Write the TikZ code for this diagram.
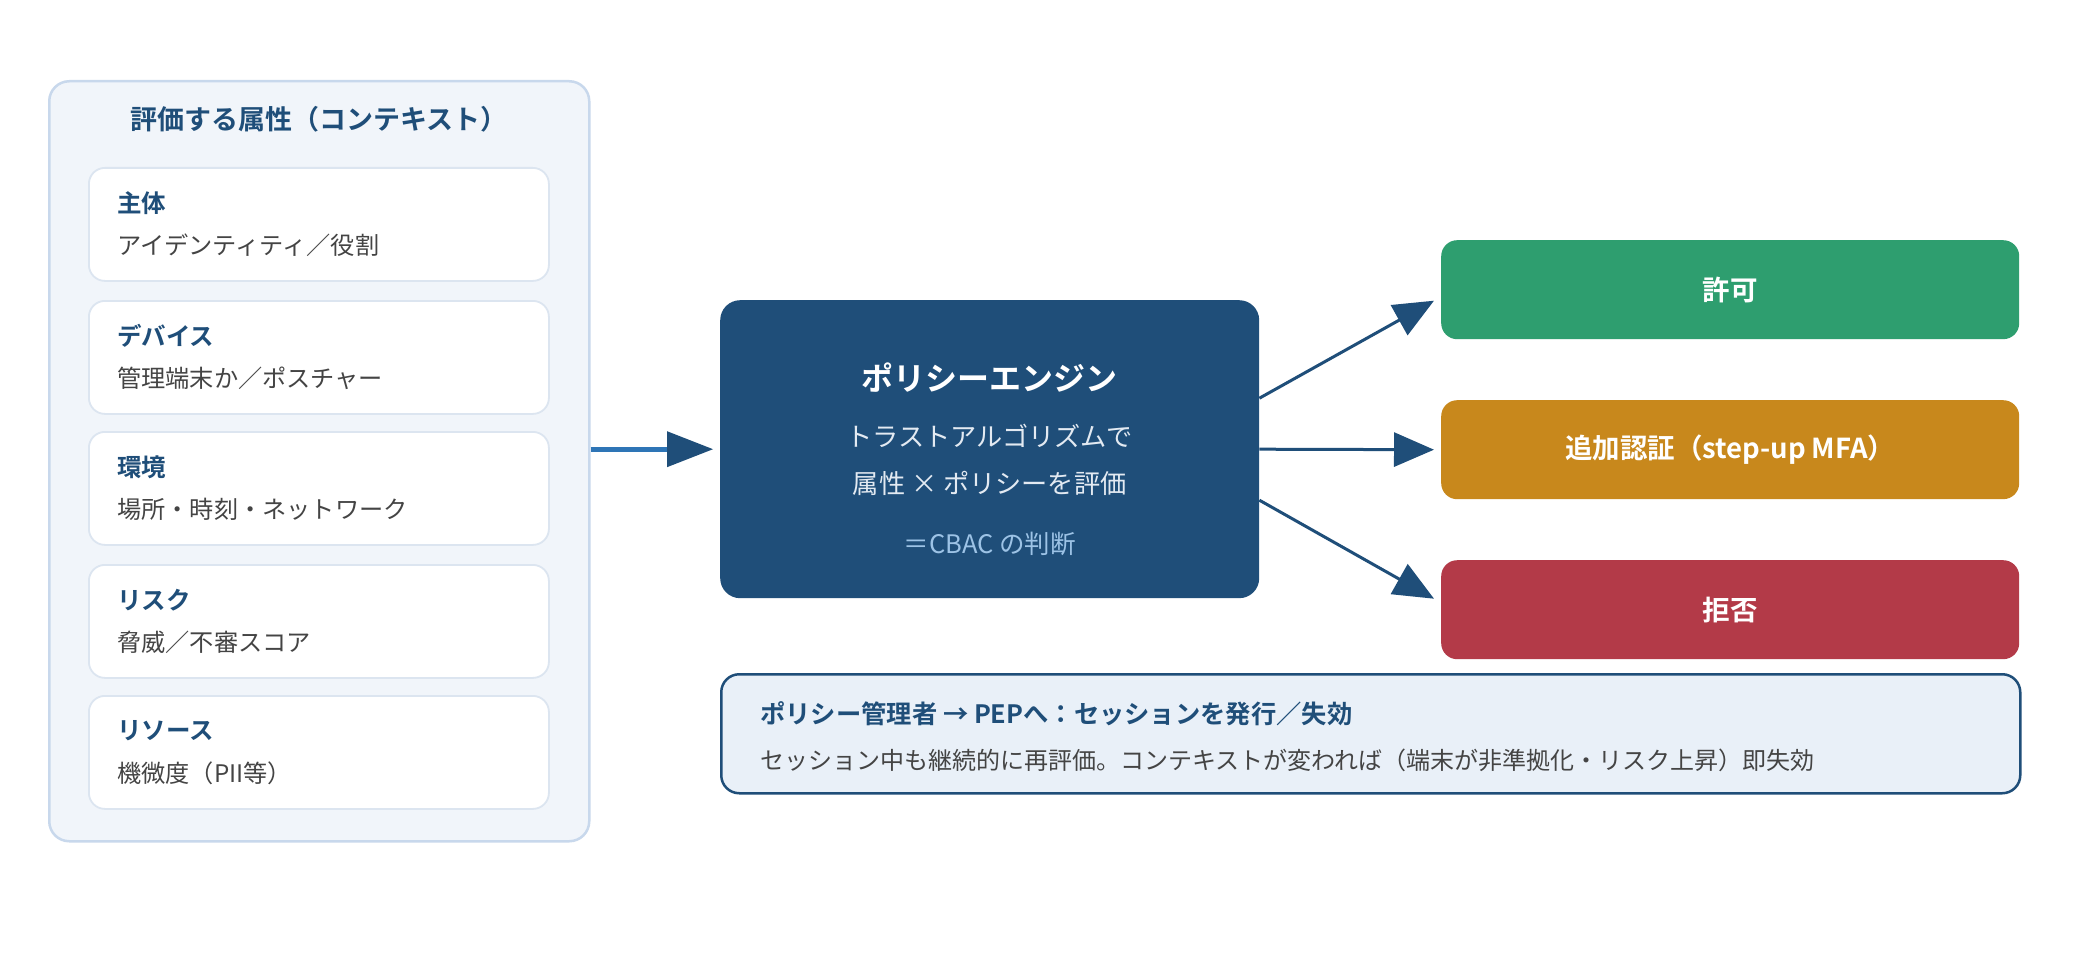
\documentclass[tikz,border=0pt]{standalone}
\usepackage{fontspec}
\setmainfont{Noto Sans CJK JP}[BoldFont={Noto Sans CJK JP Bold}]
\usetikzlibrary{arrows.meta,calc}
\newcommand{\myfs}[1]{\fontsize{#1}{#1}\selectfont}
\definecolor{navy}{HTML}{1F4E79}
\definecolor{midblue}{HTML}{2E75B6}
\definecolor{panelfill}{HTML}{F1F5FA}
\definecolor{panelline}{HTML}{C8D8EC}
\definecolor{cardline}{HTML}{DCE5F0}
\definecolor{subgray}{HTML}{444444}
\definecolor{okgreen}{HTML}{2E9E6F}
\definecolor{mfaorange}{HTML}{C8881C}
\definecolor{denyred}{HTML}{B33A48}
\definecolor{notefill}{HTML}{E9F0F8}
\definecolor{cbac}{HTML}{9DC3E6}
\definecolor{enginesub}{HTML}{E3EAF2}
\tikzset{
  panelbox/.style={draw=panelline, line width=2.5pt, fill=panelfill, rounded corners=20pt, minimum width=540pt, minimum height=760pt, anchor=north west, inner sep=0pt},
  cardbox/.style={draw=cardline, line width=1.8pt, fill=white, rounded corners=16pt, minimum width=460pt, minimum height=113pt, anchor=north west, inner sep=0pt},
  cardtitle/.style={anchor=west, text=navy, font=\bfseries\myfs{24.5pt}, inner sep=0pt},
  cardsub/.style={anchor=west, text=subgray, font=\myfs{24.2pt}, inner sep=0pt},
  enginebox/.style={fill=navy, rounded corners=20pt, minimum width=539pt, minimum height=298pt, anchor=north west, inner sep=0pt},
  outbox/.style={rounded corners=16pt, minimum width=578pt, minimum height=99pt, anchor=north west, inner sep=0pt, text=white, font=\bfseries\myfs{27.5pt}},
  notebox/.style={draw=navy, line width=2.5pt, fill=notefill, rounded corners=18pt, minimum width=1299pt, minimum height=119pt, anchor=north west, inner sep=0pt},
  arr/.style={draw=navy, line width=3pt, -{Triangle[length=40pt,width=34pt]}},
}
\begin{document}
\begin{tikzpicture}[x=1pt,y=-1pt]
\useasboundingbox (0,0) rectangle (2080,960);
\fill[white] (0,0) rectangle (2080,960);

% left panel
\node[panelbox] (panel) at (48,80) {};
\node[anchor=center, text=navy, font=\bfseries\myfs{27pt}, inner sep=0pt] (ptitle) at ($(panel.north)+(0,39)$) {評価する属性（コンテキスト）};

\node[cardbox] (c1) at (88,167) {};
\node[cardbox] (c2) at (88,300) {};
\node[cardbox] (c3) at (88,431) {};
\node[cardbox] (c4) at (88,564) {};
\node[cardbox] (c5) at (88,695) {};

\node[cardtitle] (t1) at ($(c1.north west)+(29,36)$) {主体};
\node[cardsub] (s1) at ($(c1.north west)+(29,78)$) {アイデンティティ／役割};
\node[cardtitle] (t2) at ($(c2.north west)+(29,36)$) {デバイス};
\node[cardsub] (s2) at ($(c2.north west)+(29,78)$) {管理端末か／ポスチャー};
\node[cardtitle] (t3) at ($(c3.north west)+(29,36)$) {環境};
\node[cardsub] (s3) at ($(c3.north west)+(29,78)$) {場所・時刻・ネットワーク};
\node[cardtitle] (t4) at ($(c4.north west)+(29,36)$) {リスク};
\node[cardsub] (s4) at ($(c4.north west)+(29,78)$) {脅威／不審スコア};
\node[cardtitle] (t5) at ($(c5.north west)+(29,36)$) {リソース};
\node[cardsub] (s5) at ($(c5.north west)+(29,78)$) {機微度（PII等）};

% engine
\node[enginebox] (engine) at (720,300) {};
\node[anchor=center, text=white, font=\bfseries\myfs{32pt}, inner sep=0pt] (etitle) at ($(engine.north)+(0,78)$) {ポリシーエンジン};
\node[anchor=center, text=enginesub, font=\myfs{26.2pt}, inner sep=0pt] (el1) at ($(engine.north)+(0,136)$) {トラストアルゴリズムで};
\node[anchor=center, text=enginesub, font=\myfs{26.2pt}, inner sep=0pt] (el2) at ($(engine.north)+(0,183)$) {属性 × ポリシーを評価};
\node[anchor=center, text=cbac, font=\myfs{25.5pt}, inner sep=0pt] (el3) at ($(engine.north)+(0,244)$) {＝CBAC の判断};

% outcomes
\node[outbox, fill=okgreen] (allow) at (1441,240) {許可};
\node[outbox, fill=mfaorange] (mfa) at (1441,400) {追加認証（step-up MFA）};
\node[outbox, fill=denyred] (deny) at (1441,560) {拒否};

% note
\node[notebox] (note) at (720,673) {};
\node[anchor=west, text=navy, font=\bfseries\myfs{25.3pt}, inner sep=0pt] (ntitle) at ($(note.north west)+(40,41)$) {ポリシー管理者 → PEPへ：セッションを発行／失効};
\node[anchor=west, text=subgray, font=\myfs{24pt}, inner sep=0pt] (nsub) at ($(note.north west)+(40,87)$) {セッション中も継続的に再評価。コンテキストが変われば（端末が非準拠化・リスク上昇）即失効};

% connectors
\draw[draw=midblue, line width=5pt] (panel.east |- engine.west) -- ($(engine.west)+(-40,0)$);
\draw[draw=navy, line width=0pt, -{Triangle[length=46pt,width=36pt]}] ($(engine.west)+(-41,0)$) -- ($(engine.west)+(-7,0)$);
\draw[arr] ($(engine.east)+(0,-51)$) -- ($(allow.west)+(-7,11)$);
\draw[arr] (engine.east) -- ($(mfa.west)+(-7,0)$);
\draw[arr] ($(engine.east)+(0,51)$) -- ($(deny.west)+(-7,-11)$);
\end{tikzpicture}
\end{document}
